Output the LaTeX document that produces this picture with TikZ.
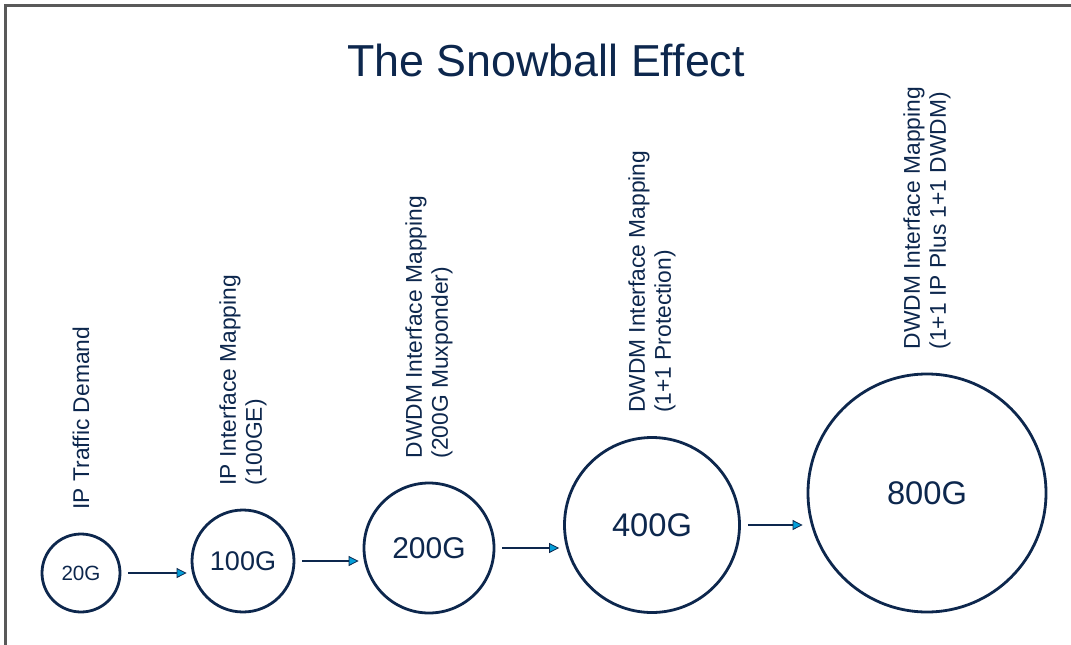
\documentclass[tikz,border=0pt]{standalone}
\usepackage{fontspec}
\setmainfont{Liberation Sans}
\usepackage{tikz}
\usetikzlibrary{arrows.meta}
\definecolor{navy}{HTML}{0D274D}
\definecolor{tipblue}{HTML}{049FD9}
\tikzset{ball/.style={circle,draw=navy,line width=2.8pt,inner sep=0pt,text=navy}}
\tikzset{flow/.style={-{Triangle[length=10pt,width=10pt,fill=tipblue,line width=0.8pt]},draw=navy,line width=1.8pt,shorten >=4pt}}
\tikzset{tag/.style={rotate=90,anchor=west,inner sep=0pt,align=left,text=navy,font=\fontsize{22.8}{26}\selectfont}}

\begin{document}
\begin{tikzpicture}[x=1pt,y=-1pt]
\useasboundingbox (0,0) rectangle (1071,645);
% frame
\draw[black!65,line width=2.5pt] (5.5,645) -- (5.5,5.5) -- (1071,5.5);
\node (title) [anchor=base,text=navy,font=\fontsize{44.8}{50}\selectfont] at (546,76) {The Snowball Effect};
%
\node (c1) [ball,minimum size=78pt,font=\fontsize{20.6}{24}\selectfont] at (81,573) {20G};
\node (c2) [ball,minimum size=102pt,font=\fontsize{27}{30}\selectfont] at (243,561) {100G};
\node (c3) [ball,minimum size=130pt,font=\fontsize{30}{34}\selectfont] at (429,548) {200G};
\node (c4) [ball,minimum size=175pt,font=\fontsize{32.7}{36}\selectfont] at (652,525) {400G};
\node (c5) [ball,minimum size=238pt,font=\fontsize{32.7}{36}\selectfont] at (927,493) {800G};
%
\node (t1) [tag] at ([yshift=23pt]c1.north) {IP Traffic Demand};
\node (t2) [tag] at ([yshift=23pt]c2.north) {IP Interface Mapping\\(100GE)};
\node (t3) [tag] at ([yshift=23pt]c3.north) {DWDM Interface Mapping\\(200G Muxponder)};
\node (t4) [tag] at ([yshift=23pt]c4.north) {DWDM Interface Mapping\\(1+1 Protection)};
\node (t5) [tag] at ([yshift=23pt]c5.north) {DWDM Interface Mapping\\(1+1 IP Plus 1+1 DWDM)};
%
\draw[flow] ([xshift=7pt]c1.east) -- (c1 -| c2.west);
\draw[flow] ([xshift=7pt]c2.east) -- (c2 -| c3.west);
\draw[flow] ([xshift=7pt]c3.east) -- (c3 -| c4.west);
\draw[flow] ([xshift=7pt]c4.east) -- (c4 -| c5.west);
%
\end{tikzpicture}
\end{document}
